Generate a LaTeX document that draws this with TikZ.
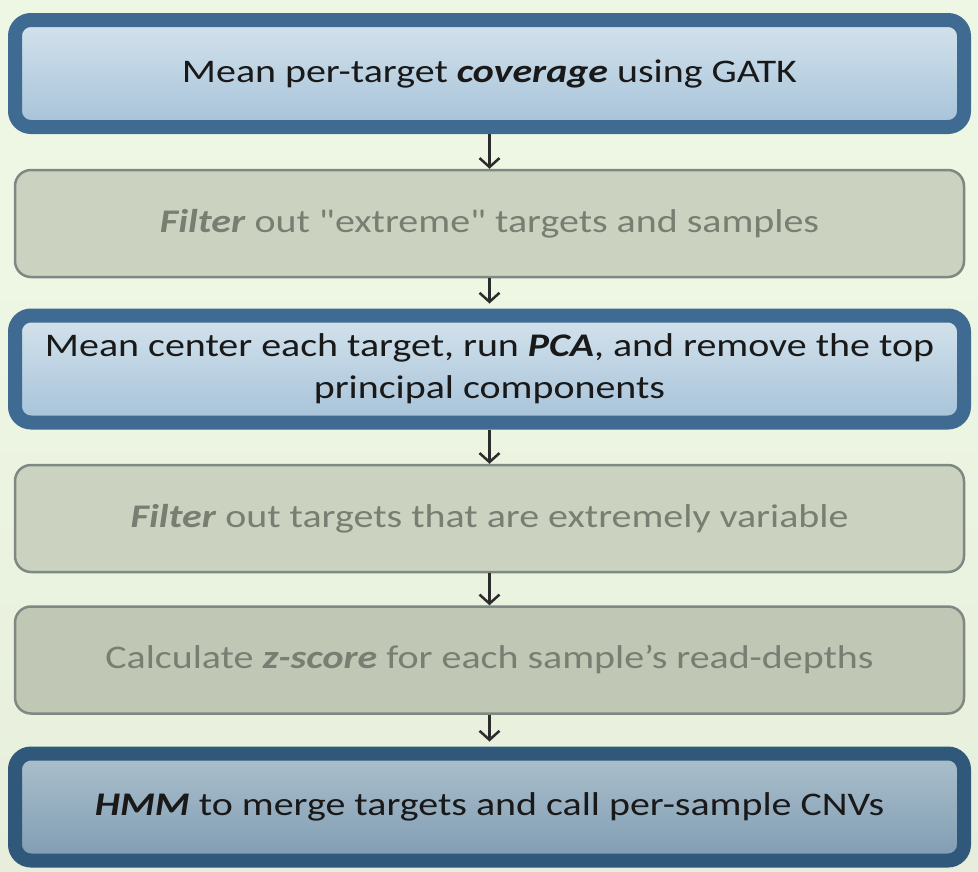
\documentclass[tikz,border=0pt]{standalone}
\usepackage{fontspec}
\setmainfont{Carlito}[FakeStretch=1.21,Ligatures=TeXOff]
\usetikzlibrary{arrows.meta}

\definecolor{bgtop}{HTML}{EEF6E4}
\definecolor{bgmid}{HTML}{E7EEDC}
\definecolor{bgbot}{HTML}{C9D0BF}
\definecolor{blueedge}{HTML}{3F6A91}
\definecolor{bluetop}{HTML}{D4E3EC}
\definecolor{bluebot}{HTML}{A6C2D9}
\definecolor{darkedge}{HTML}{30587A}
\definecolor{darktop}{HTML}{ABC0CC}
\definecolor{darkbot}{HTML}{809CB3}
\definecolor{greyedge}{HTML}{7D8982}
\definecolor{greyfill}{HTML}{CBD2BF}
\definecolor{greytext}{HTML}{787E71}
\definecolor{arrowcol}{HTML}{2C2C2C}

\pgfdeclareverticalshading{bgshade}{100bp}{color(0bp)=(bgbot); color(25bp)=(bgmid); color(60bp)=(bgtop); color(100bp)=(bgtop)}

\newcommand{\bi}[1]{\textbf{\textit{#1}}}

\begin{document}
\begin{tikzpicture}[x=1pt,y=-1pt,
  box/.style={rounded corners=16pt,minimum width=949pt,minimum height=107pt,
    align=center,inner sep=0pt,font=\fontsize{33}{42}\selectfont},
  bluebox/.style={box,draw=blueedge,line width=14pt,top color=bluetop,bottom color=bluebot,text=black!90},
  darkbox/.style={bluebox,draw=darkedge,top color=darktop,bottom color=darkbot},
  greybox/.style={box,draw=greyedge,line width=2.5pt,fill=greyfill,text=greytext},
  arr/.style={draw=arrowcol,line width=2.5pt,-{Straight Barb[length=9pt,width=20pt]}}]

% background
\fill[shading=bgshade] (0,0) rectangle (978,871);

% the six steps
\node[bluebox] (b1) at (489.5,73.5) {Mean per-target \bi{coverage} using GATK};
\node[greybox] (b2) at (489.5,223.5) {\bi{Filter} out "extreme" targets and samples};
\node[bluebox] (b3) at (489.5,369) {Mean center each target, run \bi{PCA}, and remove the top\\principal components};
\node[greybox] (b4) at (489.5,518.5) {\bi{Filter} out targets that are extremely variable};
\node[greybox,fill=greyfill!95!black] (b5) at (489.5,660) {Calculate \bi{z-score} for each sample’s read-depths};
\node[darkbox] (b6) at (489.5,807) {\bi{HMM} to merge targets and call per-sample CNVs};

% arrows between steps
\draw[arr] (b1.south) -- (b2.north);
\draw[arr,shorten >=5pt] (b2.south) -- (b3.north);
\draw[arr] (b3.south) -- (b4.north);
\draw[arr] (b4.south) -- (b5.north);
\draw[arr,shorten >=5pt] (b5.south) -- (b6.north);

\end{tikzpicture}
\end{document}
